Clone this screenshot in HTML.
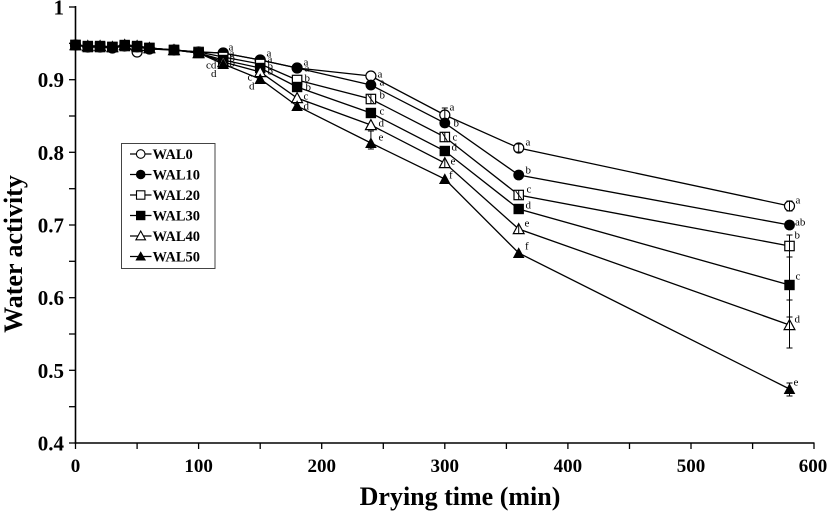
<!DOCTYPE html>
<html><head><meta charset="utf-8"><style>
html,body{margin:0;padding:0;background:#fff;}
svg{display:block;}
text{font-family:"Liberation Serif","DejaVu Serif",serif;}
</style></head><body>
<svg width="827" height="513" viewBox="0 0 827 513" xmlns="http://www.w3.org/2000/svg">
<defs>
<marker id="oc" markerWidth="14" markerHeight="14" refX="7" refY="7" markerUnits="userSpaceOnUse"><circle cx="7" cy="7" r="5" fill="#fff" stroke="#000" stroke-width="1.2"/></marker>
<marker id="fc" markerWidth="14" markerHeight="14" refX="7" refY="7" markerUnits="userSpaceOnUse"><circle cx="7" cy="7" r="5.4" fill="#000"/></marker>
<marker id="os" markerWidth="14" markerHeight="14" refX="7" refY="7" markerUnits="userSpaceOnUse"><rect x="2.3" y="2.3" width="9.4" height="9.4" fill="#fff" stroke="#000" stroke-width="1.2"/></marker>
<marker id="fs" markerWidth="14" markerHeight="14" refX="7" refY="7" markerUnits="userSpaceOnUse"><rect x="1.8" y="1.8" width="10.4" height="10.4" fill="#000"/></marker>
<marker id="ot" markerWidth="14" markerHeight="14" refX="7" refY="7" markerUnits="userSpaceOnUse"><polygon points="7,1.6 12.4,11.6 1.6,11.6" fill="#fff" stroke="#000" stroke-width="1.2"/></marker>
<marker id="ft" markerWidth="14" markerHeight="14" refX="7" refY="7" markerUnits="userSpaceOnUse"><polygon points="7,1.2 12.8,12 1.2,12" fill="#000"/></marker>
</defs>

<!-- axes -->
<g stroke="#000" stroke-width="1.6" fill="none">
<line x1="75.5" y1="6" x2="75.5" y2="443.8"/>
<line x1="74.7" y1="443" x2="814.5" y2="443"/>
</g>
<g stroke="#000" stroke-width="1.3">
<line x1="69" y1="7" x2="75.5" y2="7"/>
<line x1="69" y1="43.3" x2="75.5" y2="43.3"/>
<line x1="69" y1="79.7" x2="75.5" y2="79.7"/>
<line x1="69" y1="116" x2="75.5" y2="116"/>
<line x1="69" y1="152.3" x2="75.5" y2="152.3"/>
<line x1="69" y1="188.7" x2="75.5" y2="188.7"/>
<line x1="69" y1="225" x2="75.5" y2="225"/>
<line x1="69" y1="261.3" x2="75.5" y2="261.3"/>
<line x1="69" y1="297.7" x2="75.5" y2="297.7"/>
<line x1="69" y1="334" x2="75.5" y2="334"/>
<line x1="69" y1="370.3" x2="75.5" y2="370.3"/>
<line x1="69" y1="406.7" x2="75.5" y2="406.7"/>
<line x1="69" y1="443" x2="75.5" y2="443"/>

<line x1="75.5" y1="443" x2="75.5" y2="449"/>
<line x1="137.1" y1="443" x2="137.1" y2="449"/>
<line x1="198.6" y1="443" x2="198.6" y2="449"/>
<line x1="260.2" y1="443" x2="260.2" y2="449"/>
<line x1="321.7" y1="443" x2="321.7" y2="449"/>
<line x1="383.3" y1="443" x2="383.3" y2="449"/>
<line x1="444.8" y1="443" x2="444.8" y2="449"/>
<line x1="506.4" y1="443" x2="506.4" y2="449"/>
<line x1="567.9" y1="443" x2="567.9" y2="449"/>
<line x1="629.5" y1="443" x2="629.5" y2="449"/>
<line x1="691" y1="443" x2="691" y2="449"/>
<line x1="752.6" y1="443" x2="752.6" y2="449"/>
<line x1="814" y1="443" x2="814" y2="449"/>
</g>

<!-- y tick labels -->
<g font-size="21" font-weight="bold" text-anchor="end" fill="#000">
<text x="64" y="14.5">1</text>
<text x="64" y="87.2">0.9</text>
<text x="64" y="159.8">0.8</text>
<text x="64" y="232.5">0.7</text>
<text x="64" y="305.2">0.6</text>
<text x="64" y="377.8">0.5</text>
<text x="64" y="450.5">0.4</text>
</g>
<!-- x tick labels -->
<g font-size="19" font-weight="bold" text-anchor="middle" fill="#000">
<text x="75.5" y="472">0</text>
<text x="198.6" y="472">100</text>
<text x="321.7" y="472">200</text>
<text x="444.8" y="472">300</text>
<text x="567.9" y="472">400</text>
<text x="691" y="472">500</text>
<text x="813" y="472">600</text>
</g>
<text x="460" y="505" font-size="26" font-weight="bold" text-anchor="middle">Drying time (min)</text>
<text transform="translate(22,254) rotate(-90)" font-size="26" font-weight="bold" text-anchor="middle">Water activity</text>

<!-- series -->
<g fill="none" stroke="#000" stroke-width="1.3">
<polyline marker-start="url(#oc)" marker-mid="url(#oc)" marker-end="url(#oc)" points="75.5,45 87.8,47 100.1,47 112.4,48 124.7,46 137.1,52 149.4,49 174,50 198.6,52 223.2,53 260.2,60 297.1,68 370.9,76 444.8,115 518.7,148 789.5,206"/>
<polyline marker-start="url(#fc)" marker-mid="url(#fc)" marker-end="url(#fc)" points="75.5,45 87.8,47 100.1,47 112.4,48 124.7,46 137.1,47 149.4,49 174,50 198.6,52 223.2,53 260.2,60 297.1,68 370.9,85 444.8,123 518.7,175 789.5,225"/>
<polyline marker-start="url(#os)" marker-mid="url(#os)" marker-end="url(#os)" points="75.5,45 87.8,47 100.1,47 112.4,47 124.7,46 137.1,47 149.4,48 174,50 198.6,52 223.2,57 260.2,64 297.1,80 370.9,99 444.8,137 518.7,195 789.5,246"/>
<polyline marker-start="url(#fs)" marker-mid="url(#fs)" marker-end="url(#fs)" points="75.5,45 87.8,46 100.1,46 112.4,47 124.7,45 137.1,46 149.4,48 174,50 198.6,53 223.2,60 260.2,68 297.1,87 370.9,113 444.8,151 518.7,209 789.5,285"/>
<polyline marker-start="url(#ot)" marker-mid="url(#ot)" marker-end="url(#ot)" points="75.5,45 87.8,46 100.1,46 112.4,47 124.7,45 137.1,46 149.4,48 174,50 198.6,53 223.2,62 260.2,72 297.1,98 370.9,125 444.8,163 518.7,229 789.5,325"/>
<polyline marker-start="url(#ft)" marker-mid="url(#ft)" marker-end="url(#ft)" points="75.5,45 87.8,46 100.1,46 112.4,47 124.7,45 137.1,46 149.4,48 174,50 198.6,53 223.2,64 260.2,79 297.1,106 370.9,143 444.8,179 518.7,253 789.5,389"/>
</g>

<!-- error bars -->
<g stroke="#000" stroke-width="1">
<line x1="789.5" y1="235" x2="789.5" y2="348"/>
<line x1="786.5" y1="235" x2="792.5" y2="235"/>
<line x1="786.5" y1="257" x2="792.5" y2="257"/>
<line x1="786.5" y1="300" x2="792.5" y2="300"/>
<line x1="786.5" y1="317" x2="792.5" y2="317"/>
<line x1="786.5" y1="348" x2="792.5" y2="348"/>
<line x1="789.5" y1="383" x2="789.5" y2="396"/>
<line x1="786.5" y1="383" x2="792.5" y2="383"/>
<line x1="786.5" y1="396" x2="792.5" y2="396"/>
<line x1="789.5" y1="201" x2="789.5" y2="211"/>
<line x1="786.5" y1="201" x2="792.5" y2="201"/>
<line x1="786.5" y1="211" x2="792.5" y2="211"/>
<line x1="370.9" y1="131" x2="370.9" y2="149"/>
<line x1="367.9" y1="131" x2="373.9" y2="131"/>
<line x1="367.9" y1="149" x2="373.9" y2="149"/>
<line x1="444.8" y1="108" x2="444.8" y2="121"/>
<line x1="441.8" y1="108" x2="447.8" y2="108"/>
<line x1="518.7" y1="144" x2="518.7" y2="152"/>
<line x1="515.7" y1="144" x2="521.7" y2="144"/>
<line x1="515.7" y1="152" x2="521.7" y2="152"/>
<line x1="444.8" y1="132" x2="444.8" y2="142"/>
<line x1="441.8" y1="132" x2="447.8" y2="142"/>
<line x1="518.7" y1="190" x2="518.7" y2="200"/>
<line x1="515.7" y1="191" x2="521.7" y2="199"/>
<line x1="370.9" y1="94" x2="370.9" y2="104"/>
<line x1="367.9" y1="95" x2="373.9" y2="103"/>
<line x1="444.8" y1="158" x2="444.8" y2="167"/>
<line x1="518.7" y1="224" x2="518.7" y2="233"/>
</g>

<!-- significance letters -->
<g font-size="11" fill="#000">
<text x="228.5" y="50.5">a</text>
<text x="229.5" y="56.5">a</text>
<text x="229.5" y="61.5">b</text>
<text x="229.5" y="66.5">b</text>
<text x="206" y="68.5">cd</text>
<text x="211" y="77">d</text>
<text x="266.5" y="56.5">a</text>
<text x="267.5" y="62.5">a</text>
<text x="267.5" y="69.5">b</text>
<text x="267.5" y="74.5">b</text>
<text x="247.5" y="80.5">c</text>
<text x="249" y="89.5">d</text>
<text x="303.5" y="65.5">a</text>
<text x="304.5" y="71.5">a</text>
<text x="304.5" y="81.5">b</text>
<text x="305.5" y="90.5">b</text>
<text x="303.5" y="99.5">c</text>
<text x="303.5" y="109.5">d</text>
<text x="377.5" y="77.5">a</text>
<text x="379.5" y="85.5">a</text>
<text x="379.5" y="98.5">b</text>
<text x="379.5" y="114.5">c</text>
<text x="378.5" y="126.5">d</text>
<text x="378.5" y="140.5">e</text>
<text x="449.5" y="110.5">a</text>
<text x="453.5" y="126.5">b</text>
<text x="452.5" y="140.5">c</text>
<text x="451.5" y="150.5">d</text>
<text x="450.5" y="164.5">e</text>
<text x="449" y="178.5">f</text>
<text x="525.5" y="145.5">a</text>
<text x="525.5" y="173.5">b</text>
<text x="526.5" y="192.5">c</text>
<text x="525.5" y="208.5">d</text>
<text x="524.5" y="226.5">e</text>
<text x="525" y="249.5">f</text>
<text x="795.5" y="203.5">a</text>
<text x="795" y="225.5">ab</text>
<text x="794.5" y="238.5">b</text>
<text x="795.5" y="279.5">c</text>
<text x="794.5" y="322.5">d</text>
<text x="793.5" y="385.5">e</text>
</g>

<!-- legend -->
<rect x="121.5" y="143.5" width="93.5" height="125" fill="#fff" stroke="#444" stroke-width="1"/>
<g stroke="#000" stroke-width="1.3">
<line x1="130" y1="154" x2="151.5" y2="154"/>
<line x1="130" y1="174.5" x2="151.5" y2="174.5"/>
<line x1="130" y1="195" x2="151.5" y2="195"/>
<line x1="130" y1="215.5" x2="151.5" y2="215.5"/>
<line x1="130" y1="236" x2="151.5" y2="236"/>
<line x1="130" y1="256.5" x2="151.5" y2="256.5"/>
</g>
<circle cx="140.7" cy="154" r="4.3" fill="#fff" stroke="#000" stroke-width="1.1"/>
<circle cx="140.7" cy="174.5" r="4.8" fill="#000"/>
<rect x="136.5" y="190.8" width="8.4" height="8.4" fill="#fff" stroke="#000" stroke-width="1.1"/>
<rect x="136" y="210.8" width="9.4" height="9.4" fill="#000"/>
<polygon points="140.7,231 145.5,239.8 135.9,239.8" fill="#fff" stroke="#000" stroke-width="1.1"/>
<polygon points="140.7,251.2 146,260.5 135.4,260.5" fill="#000"/>
<g font-size="14.5" font-weight="bold" fill="#000">
<text x="152.5" y="159">WAL0</text>
<text x="152.5" y="179.5">WAL10</text>
<text x="152.5" y="200">WAL20</text>
<text x="152.5" y="220.5">WAL30</text>
<text x="152.5" y="241">WAL40</text>
<text x="152.5" y="261.5">WAL50</text>
</g>
</svg>
</body></html>
